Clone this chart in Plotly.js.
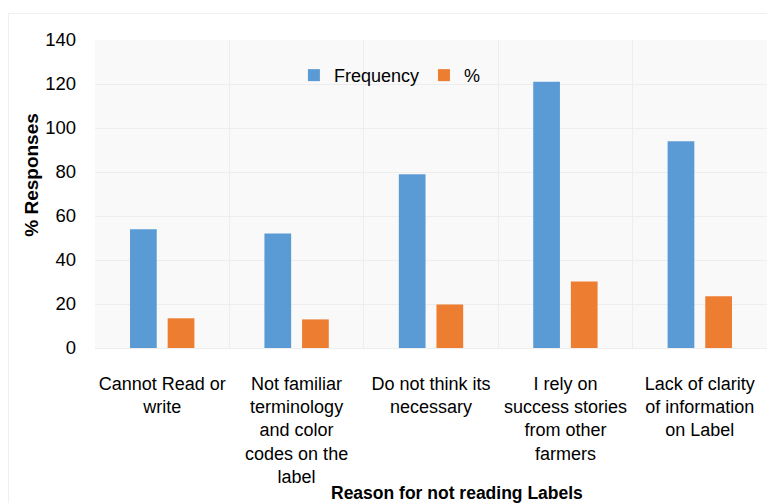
<!DOCTYPE html>
<html>
<head>
<meta charset="utf-8">
<script src="https://cdn.plot.ly/plotly-3.0.1.min.js"></script>
<style>
  html, body { margin: 0; padding: 0; background: #ffffff; }
  #frame { position: absolute; left: 8px; top: 13px; width: 770px; height: 500px; border: 1px solid #f0f0f0; box-sizing: border-box; }
  #chart { position: absolute; left: 0; top: 0; width: 767px; height: 503px; }
</style>
</head>
<body>
<div id="frame"></div>
<div id="chart"></div>
<script>
const categories = [
  "Cannot Read or<br>write",
  "Not familiar<br>terminology<br>and color<br>codes on the<br>label",
  "Do not think its<br>necessary",
  "I rely on<br>success stories<br>from other<br>farmers",
  "Lack of clarity<br>of information<br>on Label"
];
const frequency = [54, 52, 79, 121, 94];
const percent = [13.5, 13, 19.75, 30.25, 23.5];
const yTicks = [0, 20, 40, 60, 80, 100, 120, 140];
const seriesNames = ["Frequency", "%"];
const xTitle = "Reason for not reading Labels";
const yTitle = "% Responses";

const font = "Liberation Sans, Arial, sans-serif";

const data = [
  { type: "bar", name: seriesNames[0], x: categories, y: frequency,
    marker: { color: "#5B9BD5" }, hoverinfo: "y" },
  { type: "bar", name: seriesNames[1], x: categories, y: percent,
    marker: { color: "#ED7D31" }, hoverinfo: "y" }
];

const layout = {
  width: 767, height: 503,
  margin: { l: 95, r: 0, t: 40, b: 155, pad: 0 },
  paper_bgcolor: "rgba(0,0,0,0)",
  plot_bgcolor: "#f9f9f9",
  font: { family: font, size: 18, color: "#000000" },
  barmode: "group",
  bargap: 0.44,
  bargroupgap: 0.29,
  showlegend: true,
  legend: {
    orientation: "h", x: 0.296, y: 0.945, xanchor: "left", yanchor: "top",
    bgcolor: "rgba(0,0,0,0)", font: { family: font, size: 18, color: "#000" },
    traceorder: "normal"
  },
  xaxis: {
    type: "category",
    tickson: "boundaries",
    tickangle: 0,
    automargin: false,
    showgrid: true, gridcolor: "#ededed", gridwidth: 1,
    ticks: "", ticklen: 0,
    ticklabelstandoff: 19,
    showline: true, linecolor: "#ededed",
    tickfont: { family: font, size: 18, color: "#000" },
    fixedrange: true
  },
  yaxis: {
    range: [0, 140],
    tickvals: yTicks,
    ticktext: yTicks.map(String),
    showgrid: true, gridcolor: "#ededed", gridwidth: 1,
    zeroline: false,
    automargin: false,
    ticks: "", ticklabelstandoff: 18,
    tickfont: { family: font, size: 18.5, color: "#000" },
    fixedrange: true
  },
  annotations: [
    { text: "<b>" + yTitle + "</b>", xref: "paper", yref: "paper",
      x: -0.094, y: 0.562, textangle: -90, showarrow: false,
      xanchor: "center", yanchor: "middle",
      font: { family: font, size: 19, color: "#000" } },
    { text: "<b>" + xTitle + "</b>", xref: "paper", yref: "paper",
      x: 0.538, y: -0.471, showarrow: false,
      xanchor: "center", yanchor: "middle",
      font: { family: font, size: 17.5, color: "#000" } }
  ]
};

Plotly.newPlot("chart", data, layout, { displayModeBar: false, staticPlot: true });
</script>
</body>
</html>
